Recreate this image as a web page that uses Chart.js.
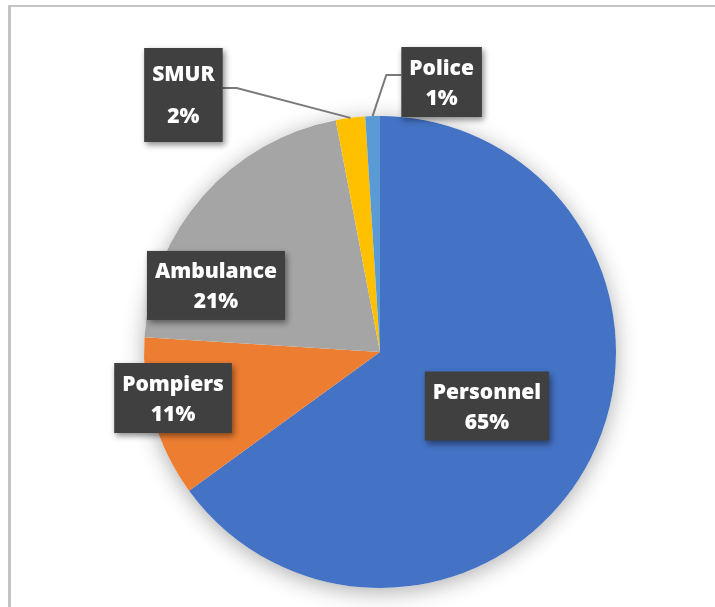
<!DOCTYPE html>
<html>
<head>
<meta charset="utf-8">
<script src="https://cdn.jsdelivr.net/npm/chart.js@4"></script>
<style>
  html, body { margin: 0; padding: 0; background: #fff; overflow: hidden; }
  #wrap { position: relative; width: 715px; height: 607px; }
  #frame {
    position: absolute; left: 8px; top: 5px; width: 800px; height: 800px;
    border-top: 2px solid #c3c3c3; border-left: 3px solid #c3c3c3;
    pointer-events: none;
  }
  canvas { position: absolute; left: 0; top: 0; }
</style>
</head>
<body>
<div id="wrap">
  <canvas id="pieChart" width="715" height="607"></canvas>
  <div id="frame"></div>
</div>
<script>
// Répartition des intervenants
const categories = ["Personnel", "Pompiers", "Ambulance", "SMUR", "Police"];
const shares = [65, 11, 21, 2, 1];
const sliceColors = ["#4472C4", "#ED7D31", "#A5A5A5", "#FFC000", "#5B9BD5"];

// label box centres, in radius units from the pie centre
const labelAnchors = [
  [0.453, 0.229],
  [-0.877, 0.195],
  [-0.695, -0.282],
  [-0.833, -1.089],
  [0.261, -1.144],
];
const lineGaps = [30, 30, 30, 42, 30];
const boxHeights = [69, 70, 69, 94, 70];
const withLeader = [false, false, false, true, true];

const LABEL_FONT = "800 21px 'Open Sans', sans-serif";

// soft shadow under the whole pie
const pieShadow = {
  id: "pieShadow",
  beforeDatasetsDraw(chart) {
    const arc = chart.getDatasetMeta(0).data[0];
    if (!arc) return;
    const ctx = chart.ctx;
    ctx.save();
    ctx.shadowColor = "rgba(0,0,0,0.32)";
    ctx.shadowBlur = 22;
    ctx.shadowOffsetY = 4;
    ctx.fillStyle = "#fff";
    ctx.beginPath();
    ctx.arc(arc.x, arc.y, arc.outerRadius, 0, Math.PI * 2);
    ctx.fill();
    ctx.restore();
  },
};

// dark boxed labels with leader lines for the thin slices
const boxLabels = {
  id: "boxLabels",
  afterDatasetsDraw(chart) {
    const ctx = chart.ctx;
    const meta = chart.getDatasetMeta(0);
    const values = chart.data.datasets[0].data;
    const total = values.reduce((a, b) => a + b, 0);

    meta.data.forEach((arc, i) => {
      const r = arc.outerRadius;
      const cx = arc.x + labelAnchors[i][0] * r;
      const cy = arc.y + labelAnchors[i][1] * r;
      const line1 = chart.data.labels[i];
      const line2 = Math.round(values[i] / total * 100) + "%";

      ctx.save();
      ctx.font = LABEL_FONT;
      const w = Math.max(ctx.measureText(line1).width, ctx.measureText(line2).width) + 16;
      const h = boxHeights[i];
      const left = cx - w / 2, top = cy - h / 2;

      if (withLeader[i]) {
        const mid = (arc.startAngle + arc.endAngle) / 2;
        const px = arc.x + Math.cos(mid) * r;
        const py = arc.y + Math.sin(mid) * r;
        const toRight = px > cx;
        const ex = toRight ? left + w : left;
        const ey = cy - 7;
        ctx.strokeStyle = "#7a7a7a";
        ctx.lineWidth = 2;
        ctx.beginPath();
        ctx.moveTo(ex, ey);
        ctx.lineTo(ex + (toRight ? 14 : -15), ey);
        ctx.lineTo(px, py);
        ctx.stroke();
      }

      ctx.shadowColor = "rgba(0,0,0,0.45)";
      ctx.shadowBlur = 6;
      ctx.shadowOffsetX = 2;
      ctx.shadowOffsetY = 3;
      ctx.fillStyle = "#404040";
      ctx.fillRect(left, top, w, h);
      ctx.shadowColor = "transparent";

      ctx.fillStyle = "#ffffff";
      ctx.textAlign = "center";
      ctx.textBaseline = "alphabetic";
      const gap = lineGaps[i];
      ctx.fillText(line1, cx, cy - gap / 2 + 7.5);
      ctx.fillText(line2, cx, cy + gap / 2 + 7.5);
      ctx.restore();
    });
  },
};

new Chart(document.getElementById("pieChart").getContext("2d"), {
  type: "pie",
  data: {
    labels: categories,
    datasets: [
      {
        data: shares,
        backgroundColor: sliceColors,
        borderWidth: 0,
      },
    ],
  },
  options: {
    responsive: false,
    animation: false,
    layout: { padding: { left: 144, right: 99, top: 116, bottom: 19 } },
    plugins: {
      legend: { display: false },
      tooltip: { enabled: false },
    },
  },
  plugins: [pieShadow, boxLabels],
});
</script>
</body>
</html>
